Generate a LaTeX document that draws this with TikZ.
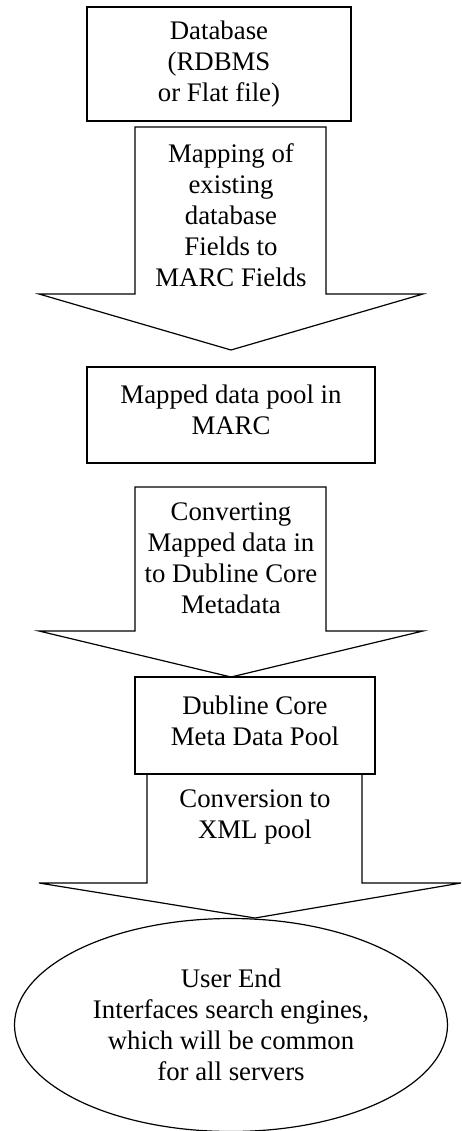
\documentclass[tikz,border=0pt]{standalone}
\usepackage{fontspec}
\setmainfont{Liberation Serif}
\usetikzlibrary{shapes.geometric}

\begin{document}
\begin{tikzpicture}[x=0.5pt,y=-0.5pt,
    box/.style={draw,line width=0.6pt,align=center,inner sep=0pt},
    blockarrow/.style={draw,line width=0.6pt,line join=miter},
    txt/.style={align=center,inner sep=0pt},
    every node/.append style={font=\fontsize{13.4}{15.5}\selectfont}]
        \useasboundingbox (0,0) rectangle (461,1131);
        %方框
        \node [box,minimum width=132pt,minimum height=57pt] (db) at (219,64) {Database\\(RDBMS\\or Flat file)};
        \node [box,minimum width=144pt,minimum height=48pt,text depth=5pt] (pool) at (231,415) {Mapped data pool in\\MARC};
        \node [box,minimum width=120pt,minimum height=48.5pt,text depth=5pt] (dc) at (255,725.5) {Dubline Core\\Meta Data Pool};
        %椭圆
        \node [box,ellipse,minimum width=216.5pt,minimum height=106.5pt] (user) at (231,1025) {User End\\Interfaces search engines,\\which will be common\\for all servers};
        %箭头1
        \draw [blockarrow] (135,127) -- (326,127) -- (326,294) -- (423,294) -- (231,350) -- (39,294) -- (135,294) -- cycle;
        \node [txt] (map) at (231,215.5) {Mapping of\\existing\\database\\Fields to\\MARC Fields};
        %箭头2
        \draw [blockarrow] (135,487) -- (326,487) -- (326,631) -- (423,631) -- (231,677) -- (39,631) -- (135,631) -- cycle;
        \node [txt] (conv) at (231,558.5) {Converting\\Mapped data in\\to Dubline Core\\Metadata};
        %箭头3
        \draw [blockarrow] (147,774) -- (362,774) -- (362,883) -- (461,883) -- (255,918) -- (39,883) -- (147,883) -- cycle;
        \node [txt] (xml) at (255,817) {Conversion to\\XML pool};
    \end{tikzpicture}
\end{document}
